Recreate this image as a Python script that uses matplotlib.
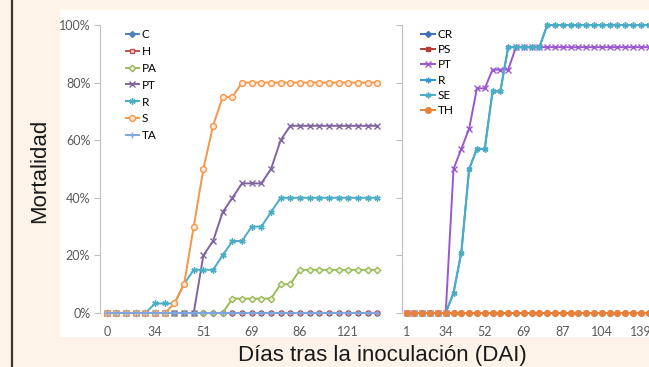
import numpy as np
import matplotlib
matplotlib.use("Agg")
import matplotlib.pyplot as plt
from matplotlib.patches import Rectangle
from matplotlib.lines import Line2D

# datos panel izquierdo (29 muestreos, % mortalidad)
dias_izq = [0, 34, 51, 69, 86, 121]          # etiquetas visibles (cada 5 puntos)
C = [0] * 29
H = [0] * 29
PA = [0] * 13 + [5] * 5 + [10] * 2 + [15] * 9
PT = [0] * 10 + [20, 25, 35, 40, 45, 45, 45, 50, 60] + [65] * 10
R = [0] * 5 + [3.3, 3.3, 3.3, 10, 15, 15, 15, 20, 25, 25, 30, 30, 35] + [40] * 11
S = [0] * 7 + [3.3, 10, 30, 50, 65, 75, 75] + [80] * 15
TA = [0] * 29

# datos panel derecho (35 muestreos)
dias_der = [1, 34, 52, 69, 87, 104, 139]
CR = [0] * 35
PS = [0] * 35
PT2 = [0] * 6 + [50, 57, 64, 78, 78, 84.5, 84.5, 84.5] + [92.3] * 21
R2 = [0] * 6 + [7, 21, 50, 57, 57, 77, 77] + [92.3] * 5 + [100] * 17
SE = list(R2)
TH = [0] * 35

W, Hh = 649, 367
fig = plt.figure(figsize=(W / 100, Hh / 100), dpi=100)
fig.patch.set_facecolor("#fdf3e8")

def px(x0, y0, x1, y1):
    return [x0 / W, 1 - y1 / Hh, (x1 - x0) / W, (y1 - y0) / Hh]

fig.add_artist(Rectangle((60 / W, 1 - 337 / Hh), 1, (337 - 10) / Hh,
                         transform=fig.transFigure, facecolor="white", edgecolor="none", zorder=0))
fig.add_artist(Line2D([11.5 / W, 11.5 / W], [0, 1], transform=fig.transFigure,
                      color="#3a342e", lw=1.6))

star = (6, 2, 0)
tick_font = "Lato"
grey = "#595959"

# ---------- panel izquierdo ----------
ax1 = fig.add_axes(px(100, 25, 385, 313))
ax1.patch.set_alpha(0)
x1 = np.arange(29)
series1 = [
    ("C", C, "#4f81bd", "D", dict(ms=3, mfc="#4f81bd")),
    ("H", H, "#c0504d", "s", dict(ms=3.5, mfc="#f2dcdb")),
    ("PA", PA, "#9bbb59", "D", dict(ms=3.3, mfc="#ebf1de")),
    ("PT", PT, "#8064a2", "x", dict(ms=4, mew=1.0)),
    ("R", R, "#4bacc6", star, dict(ms=4.5, mew=1.0)),
    ("S", S, "#f79646", "o", dict(ms=4.2, mfc="#fde9d9")),
    ("TA", TA, "#7ea6e0", "+", dict(ms=4, mew=1.0)),
]
for name, vals, col, mk, kw in series1:
    ax1.plot(x1, np.array(vals) / 100, color=col, marker=mk, lw=1.4, label=name,
             clip_on=False, **kw)
ax1.set_xlim(-0.7, 28.8)
ax1.set_ylim(0, 1)
ax1.set_yticks(np.arange(0, 1.01, 0.2))
ax1.set_yticklabels([f"{int(v * 100)}%" for v in np.arange(0, 1.01, 0.2)],
                    fontfamily=tick_font, fontsize=9, color=grey)
ax1.set_xticks(x1[::5])
ax1.set_xticklabels([str(d) for d in dias_izq], fontfamily=tick_font, fontsize=9, color=grey)
ax1.tick_params(axis="y", length=4, color="#bfbfbf", pad=3)
ax1.tick_params(axis="x", length=0, pad=9)
for s in ["top", "right", "bottom"]:
    ax1.spines[s].set_visible(False)
ax1.spines["left"].set_color("#bfbfbf")
leg1 = ax1.legend(loc="upper left", bbox_to_anchor=(120 / W, 1 - 23 / Hh),
                  bbox_transform=fig.transFigure, frameon=False, borderpad=0,
                  handlelength=1.1, handletextpad=0.25, labelspacing=0.5,
                  prop={"family": tick_font, "size": 8.5})

# ---------- panel derecho ----------
ax2 = fig.add_axes(px(402, 25, 676, 313))
ax2.patch.set_alpha(0)
x2 = np.arange(35)
series2 = [
    ("CR", CR, "#3d6fb5", "D", dict(ms=3)),
    ("PS", PS, "#b83b35", "s", dict(ms=3.5)),
    ("PT", PT2, "#9b57cf", "x", dict(ms=4, mew=1.0)),
    ("R", R2, "#2e97d8", star, dict(ms=4, mew=1.0)),
    ("SE", SE, "#4bacc6", star, dict(ms=4.2, mew=1.0)),
    ("TH", TH, "#e8823a", "o", dict(ms=4)),
]
for name, vals, col, mk, kw in series2:
    ax2.plot(x2, np.array(vals) / 100, color=col, marker=mk, lw=1.4, label=name,
             clip_on=False, **kw)
ax2.set_xlim(-0.6, 34.5)
ax2.set_ylim(0, 1)
ax2.set_yticks(np.arange(0, 1.01, 0.2))
ax2.set_yticklabels([])
ax2.set_xticks(x2[::5][:len(dias_der)])
ax2.set_xticklabels([str(d) for d in dias_der], fontfamily=tick_font, fontsize=9, color=grey)
ax2.tick_params(axis="y", length=4, color="#bfbfbf")
ax2.tick_params(axis="x", length=0, pad=9)
for s in ["top", "right", "bottom"]:
    ax2.spines[s].set_visible(False)
ax2.spines["left"].set_color("#bfbfbf")
leg2 = ax2.legend(loc="upper left", bbox_to_anchor=(415 / W, 1 - 23 / Hh),
                  bbox_transform=fig.transFigure, frameon=False, borderpad=0,
                  handlelength=1.2, handletextpad=0.2, labelspacing=0.36,
                  prop={"family": tick_font, "size": 8.5})

# etiquetas de ejes
fig.text(40 / W, 1 - 171 / Hh, "Mortalidad", rotation=90, ha="center", va="center",
         fontsize=16, fontfamily="Liberation Sans", color="#1a1a1a")
fig.text(382 / W, 1 - 355 / Hh, "Días tras la inoculación (DAI)", ha="center", va="center",
         fontsize=16, fontfamily="Liberation Sans", color="#1a1a1a")

fig.savefig("out.png", dpi=100, facecolor=fig.get_facecolor())
